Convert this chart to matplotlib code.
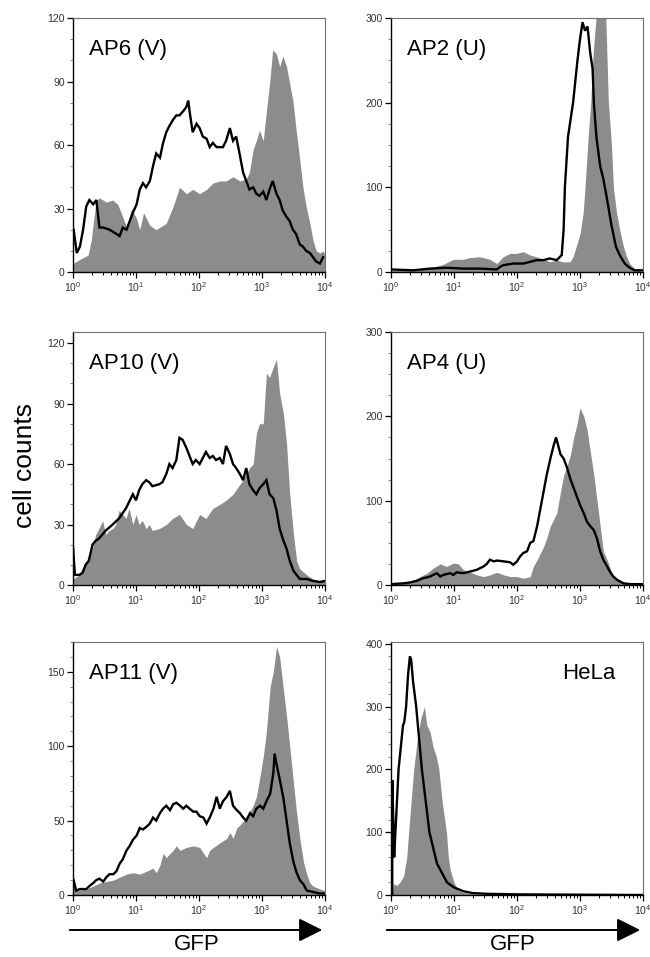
import numpy as np
import matplotlib
matplotlib.use("Agg")
import matplotlib.pyplot as plt
from matplotlib.ticker import MultipleLocator, LogLocator, NullFormatter
from matplotlib.patches import FancyArrowPatch

plt.rcParams['font.family'] = ['Liberation Sans', 'DejaVu Sans']
plt.rcParams['mathtext.fontset'] = 'custom'
plt.rcParams['mathtext.rm'] = 'Liberation Sans'
plt.rcParams['mathtext.it'] = 'Liberation Sans'
plt.rcParams['mathtext.default'] = 'regular'

# ---------------- data (x given as log10 of GFP intensity) ----------------
ap6_gray_x = [0.00, 0.11, 0.24, 0.29, 0.33, 0.37, 0.42, 0.53, 0.63, 0.71, 0.79, 0.85, 0.93, 1.01, 1.06, 1.12,
              1.22, 1.32, 1.48, 1.59, 1.69, 1.80, 1.90, 2.01, 2.12, 2.22, 2.33, 2.43, 2.54, 2.65, 2.75, 2.80,
              2.86, 2.91, 2.96, 3.02, 3.07, 3.12, 3.17, 3.23, 3.28, 3.33, 3.39, 3.44, 3.49, 3.55, 3.60, 3.65,
              3.70, 3.76, 3.81, 3.86, 3.92, 3.97, 4.00]
ap6_gray_y = [4, 6, 8, 15, 25, 34, 35, 33, 34, 32, 26, 21, 30, 25, 20, 28,
              22, 20, 23, 31, 40, 37, 39, 37, 39, 42, 43, 43, 45, 43, 44, 47,
              58, 62, 67, 62, 76, 89, 105, 103, 97, 102, 97, 89, 81, 65, 53, 40,
              31, 23, 15, 10, 9, 10, 8]
ap6_line_x = [0.01, 0.06, 0.11, 0.16, 0.21, 0.26, 0.32, 0.37, 0.42, 0.48, 0.58, 0.69, 0.74, 0.79, 0.85, 0.90,
              0.95, 1.01, 1.06, 1.11, 1.16, 1.22, 1.27, 1.32, 1.38, 1.43, 1.48, 1.53, 1.59, 1.64, 1.69, 1.75,
              1.80, 1.83, 1.85, 1.90, 1.96, 2.01, 2.06, 2.12, 2.17, 2.22, 2.28, 2.38, 2.43, 2.49, 2.54, 2.59,
              2.65, 2.70, 2.75, 2.80, 2.86, 2.91, 2.96, 3.02, 3.07, 3.12, 3.17, 3.23, 3.28, 3.33, 3.39, 3.44,
              3.49, 3.54, 3.60, 3.65, 3.70, 3.76, 3.81, 3.86, 3.92, 3.97]
ap6_line_y = [20, 9, 12, 20, 31, 34, 32, 34, 21, 21, 20, 18, 17, 21, 20, 24,
              28, 32, 39, 42, 40, 43, 50, 56, 54, 61, 66, 69, 72, 74, 74, 76,
              78, 81, 76, 66, 70, 68, 64, 63, 59, 61, 59, 59, 62, 68, 62, 64,
              55, 47, 43, 39, 40, 37, 36, 38, 34, 39, 43, 37, 34, 29, 26, 24,
              20, 18, 13, 12, 10, 9, 7, 5, 4, 7]

ap2_gray_x = [0.00, 0.35, 0.62, 0.83, 0.99, 1.15, 1.25, 1.41, 1.57, 1.68, 1.78, 1.89, 1.99, 2.10, 2.21, 2.31,
              2.42, 2.52, 2.63, 2.73, 2.84, 2.89, 2.94, 3.00, 3.05, 3.08, 3.13, 3.17, 3.21, 3.26, 3.32, 3.37,
              3.41, 3.45, 3.50, 3.53, 3.58, 3.63, 3.69, 3.74, 3.79, 3.85, 3.90, 3.99]
ap2_gray_y = [2, 3, 5, 9, 15, 15, 17, 18, 15, 10, 18, 22, 22, 24, 20, 18,
              15, 12, 14, 12, 12, 18, 30, 45, 70, 100, 160, 200, 260, 305, 330, 330,
              300, 200, 150, 100, 70, 50, 30, 18, 10, 5, 2, 1]
ap2_line_x = [0.00, 0.35, 0.62, 0.88, 1.15, 1.41, 1.68, 1.73, 1.78, 1.94, 2.10, 2.21, 2.31, 2.42, 2.52, 2.63,
              2.71, 2.74, 2.76, 2.81, 2.89, 2.96, 3.00, 3.04, 3.08, 3.12, 3.16, 3.20, 3.22, 3.26, 3.32, 3.37,
              3.42, 3.50, 3.57, 3.63, 3.71, 3.79, 3.87, 3.99]
ap2_line_y = [3, 2, 4, 5, 4, 4, 3, 6, 8, 10, 10, 12, 14, 14, 16, 14,
              20, 50, 100, 160, 200, 250, 275, 295, 285, 290, 260, 240, 200, 160, 125, 110,
              90, 55, 30, 20, 10, 5, 2, 2]

ap10_gray_x = [0.00, 0.10, 0.20, 0.31, 0.36, 0.41, 0.47, 0.52, 0.57, 0.63, 0.68, 0.73, 0.79, 0.84, 0.89, 0.95,
               1.00, 1.05, 1.10, 1.16, 1.21, 1.26, 1.37, 1.48, 1.58, 1.69, 1.80, 1.90, 2.01, 2.11, 2.22, 2.33,
               2.43, 2.54, 2.65, 2.70, 2.75, 2.80, 2.86, 2.91, 2.96, 3.02, 3.07, 3.12, 3.18, 3.23, 3.28, 3.34,
               3.39, 3.44, 3.50, 3.55, 3.60, 3.71, 3.81, 3.92, 4.00]
ap10_gray_y = [3, 5, 10, 18, 25, 28, 32, 25, 27, 28, 30, 37, 35, 33, 38, 30,
               35, 30, 32, 28, 30, 27, 28, 30, 33, 35, 30, 28, 35, 33, 38, 40,
               42, 45, 50, 52, 55, 58, 60, 75, 80, 80, 105, 103, 108, 112, 95, 85,
               70, 45, 25, 12, 8, 5, 3, 2, 3]
ap10_line_x = [0.00, 0.03, 0.10, 0.15, 0.20, 0.25, 0.31, 0.36, 0.41, 0.52, 0.63, 0.73, 0.84, 0.95, 1.00, 1.05,
               1.10, 1.16, 1.21, 1.26, 1.37, 1.42, 1.48, 1.53, 1.58, 1.64, 1.69, 1.74, 1.80, 1.85, 1.90, 1.95,
               2.01, 2.06, 2.11, 2.17, 2.22, 2.27, 2.33, 2.38, 2.43, 2.49, 2.54, 2.59, 2.65, 2.70, 2.75, 2.80,
               2.86, 2.91, 2.96, 3.02, 3.07, 3.12, 3.18, 3.23, 3.28, 3.34, 3.39, 3.44, 3.50, 3.55, 3.60, 3.71,
               3.81, 3.92, 4.00]
ap10_line_y = [19, 5, 5, 6, 10, 12, 20, 22, 23, 27, 30, 33, 38, 45, 42, 47,
               50, 52, 51, 49, 50, 51, 55, 60, 58, 62, 73, 72, 68, 64, 60, 62,
               60, 63, 66, 63, 64, 62, 63, 60, 69, 65, 60, 58, 55, 52, 58, 50,
               47, 45, 48, 50, 52, 45, 43, 37, 28, 22, 18, 12, 7, 5, 3, 3,
               2, 1.5, 2]

ap4_gray_x = [0.00, 0.20, 0.35, 0.46, 0.57, 0.67, 0.78, 0.88, 0.99, 1.07, 1.15, 1.26, 1.36, 1.47, 1.57, 1.68,
              1.79, 1.89, 2.00, 2.10, 2.21, 2.26, 2.32, 2.42, 2.47, 2.53, 2.63, 2.69, 2.74, 2.79, 2.85, 2.90,
              2.95, 3.00, 3.06, 3.11, 3.16, 3.22, 3.27, 3.32, 3.37, 3.43, 3.48, 3.53, 3.64, 3.80, 4.00]
ap4_gray_y = [1, 2, 5, 10, 14, 20, 25, 22, 26, 25, 18, 15, 12, 10, 12, 15,
              12, 10, 10, 8, 10, 22, 30, 45, 55, 70, 85, 110, 130, 140, 155, 175,
              190, 210, 200, 185, 160, 130, 100, 70, 40, 30, 20, 10, 4, 2, 1]
ap4_line_x = [0.00, 0.20, 0.30, 0.41, 0.51, 0.62, 0.67, 0.73, 0.78, 0.83, 0.94, 0.99, 1.04, 1.15, 1.26, 1.36,
              1.47, 1.52, 1.57, 1.63, 1.68, 1.79, 1.89, 1.94, 2.00, 2.05, 2.10, 2.16, 2.21, 2.26, 2.32, 2.37,
              2.42, 2.47, 2.53, 2.58, 2.62, 2.69, 2.74, 2.79, 2.85, 2.90, 2.95, 3.00, 3.06, 3.11, 3.16, 3.22,
              3.27, 3.32, 3.37, 3.43, 3.48, 3.53, 3.59, 3.64, 3.69, 3.80, 4.00]
ap4_line_y = [1, 2, 3, 5, 8, 10, 12, 14, 10, 12, 14, 12, 15, 14, 16, 18,
              22, 25, 30, 28, 29, 28, 27, 24, 28, 34, 38, 40, 50, 52, 70, 90,
              110, 130, 150, 165, 175, 155, 150, 140, 125, 115, 105, 95, 85, 75, 70, 65,
              55, 40, 30, 22, 15, 10, 6, 4, 2, 1, 1]

ap11_gray_x = [0.01, 0.05, 0.21, 0.32, 0.42, 0.53, 0.64, 0.74, 0.85, 0.95, 1.06, 1.17, 1.27, 1.32, 1.38, 1.43,
               1.48, 1.54, 1.59, 1.64, 1.70, 1.80, 1.91, 2.01, 2.12, 2.17, 2.23, 2.33, 2.44, 2.49, 2.54, 2.60,
               2.65, 2.75, 2.86, 2.91, 2.97, 3.02, 3.07, 3.13, 3.18, 3.23, 3.28, 3.34, 3.39, 3.44, 3.50, 3.55,
               3.60, 3.66, 3.71, 3.76, 3.81, 3.92, 4.00]
ap11_gray_y = [8, 3, 4, 6, 8, 9, 10, 12, 14, 15, 14, 16, 18, 15, 20, 28,
               25, 28, 30, 33, 30, 32, 33, 32, 25, 30, 32, 35, 38, 42, 38, 45,
               47, 52, 60, 66, 80, 93, 110, 140, 150, 167, 160, 138, 120, 100, 75, 55,
               38, 22, 14, 8, 6, 4, 3]
ap11_line_x = [0.01, 0.05, 0.11, 0.21, 0.26, 0.32, 0.37, 0.42, 0.48, 0.53, 0.58, 0.64, 0.69, 0.74, 0.79, 0.85,
               0.90, 0.95, 1.01, 1.06, 1.11, 1.17, 1.22, 1.27, 1.32, 1.38, 1.43, 1.48, 1.54, 1.59, 1.64, 1.70,
               1.75, 1.80, 1.85, 1.91, 1.96, 2.01, 2.07, 2.12, 2.17, 2.23, 2.28, 2.33, 2.38, 2.44, 2.49, 2.54,
               2.60, 2.65, 2.70, 2.75, 2.81, 2.86, 2.91, 2.97, 3.02, 3.07, 3.13, 3.18, 3.20, 3.23, 3.28, 3.34,
               3.39, 3.44, 3.50, 3.55, 3.60, 3.66, 3.71, 3.81, 3.92, 4.00]
ap11_line_y = [10, 3, 4, 4, 6, 8, 10, 11, 9, 12, 14, 14, 16, 21, 24, 30,
               33, 37, 40, 45, 44, 46, 48, 52, 50, 55, 58, 60, 57, 61, 62, 60,
               58, 60, 58, 56, 56, 53, 52, 48, 52, 58, 66, 58, 63, 66, 70, 60,
               57, 55, 52, 50, 55, 53, 58, 60, 58, 63, 68, 82, 95, 88, 78, 65,
               50, 35, 22, 15, 10, 7, 3, 2, 1, 1]

hela_gray_x = [0.02, 0.04, 0.09, 0.14, 0.20, 0.25, 0.28, 0.36, 0.42, 0.47, 0.53, 0.57, 0.62, 0.67, 0.72, 0.76,
               0.81, 0.88, 0.91, 0.94, 1.00, 1.06, 1.15, 1.30, 1.50, 2.00]
hela_gray_y = [5, 18, 15, 20, 30, 60, 100, 200, 250, 280, 300, 270, 260, 235, 220, 200,
               150, 100, 60, 40, 20, 8, 4, 2, 1, 0]
hela_line_x = [0.02, 0.02, 0.05, 0.07, 0.12, 0.19, 0.21, 0.24, 0.27, 0.30, 0.32, 0.35, 0.40, 0.49, 0.61, 0.73,
               0.89, 1.00, 1.15, 1.30, 1.50, 2.00, 4.00]
hela_line_y = [0, 183, 60, 100, 200, 270, 275, 300, 350, 380, 375, 340, 300, 200, 100, 50,
               20, 12, 6, 3, 2, 1, 0]

panel_names = ["AP6 (V)", "AP2 (U)", "AP10 (V)", "AP4 (U)", "AP11 (V)", "HeLa"]
panel_gray = [(ap6_gray_x, ap6_gray_y), (ap2_gray_x, ap2_gray_y), (ap10_gray_x, ap10_gray_y),
              (ap4_gray_x, ap4_gray_y), (ap11_gray_x, ap11_gray_y), (hela_gray_x, hela_gray_y)]
panel_line = [(ap6_line_x, ap6_line_y), (ap2_line_x, ap2_line_y), (ap10_line_x, ap10_line_y),
              (ap4_line_x, ap4_line_y), (ap11_line_x, ap11_line_y), (hela_line_x, hela_line_y)]
panel_ymax = [120, 300, 125.5, 300, 170, 403]
panel_ymajor = [30, 100, 30, 100, 50, 100]
panel_yminor = [10, 25, 10, 25, 10, 20]

# ---------------- layout ----------------
W, H = 650, 957
fig = plt.figure(figsize=(W / 100, H / 100), dpi=100)
col_left = [73, 391]
col_w = 252
rows = [(18, 272), (332, 585), (642, 895)]

gray = '#8c8c8c'
for i in range(6):
    r, c = divmod(i, 2)
    top, bot = rows[r]
    ax = fig.add_axes([col_left[c] / W, 1 - bot / H, col_w / W, (bot - top) / H])
    gx, gy = panel_gray[i]
    lx, ly = panel_line[i]
    ax.fill_between(10 ** np.array(gx), gy, 0, color=gray, lw=0)
    ax.plot(10 ** np.array(lx), ly, color='black', lw=1.7, solid_joinstyle='miter')
    ax.set_xscale('log')
    ax.set_xlim(1, 1e4)
    ax.set_ylim(0, panel_ymax[i])
    ax.xaxis.set_major_locator(LogLocator(base=10, numticks=10))
    ax.xaxis.set_minor_locator(LogLocator(base=10, subs=np.arange(2, 10), numticks=20))
    ax.xaxis.set_minor_formatter(NullFormatter())
    ax.yaxis.set_major_locator(MultipleLocator(panel_ymajor[i]))
    ax.yaxis.set_minor_locator(MultipleLocator(panel_yminor[i]))
    ax.tick_params(axis='both', which='major', direction='out', length=4, width=0.9,
                   labelsize=7.5, colors='black', labelcolor='#333333', pad=2)
    ax.tick_params(axis='both', which='minor', direction='out', length=2.5, width=0.7, colors='black')
    ax.tick_params(axis='y', which='minor', colors='#888888')
    for s in ['top', 'right']:
        ax.spines[s].set_color('#6f6f6f')
        ax.spines[s].set_linewidth(0.8)
    for s in ['left', 'bottom']:
        ax.spines[s].set_color('black')
        ax.spines[s].set_linewidth(1.0)
    if c == 1:
        # keep the rightmost decade label inside the figure
        fig.canvas.draw()
        labs = ax.get_xticklabels()
        if labs:
            labs[-1].set_horizontalalignment('right')
            labs[-1].set_x(labs[-1].get_position()[0])
    if i == 5:
        ax.text(0.89, 0.855, panel_names[i], transform=ax.transAxes, fontsize=16,
                ha='right', va='baseline')
    else:
        ax.text(0.065, 0.855, panel_names[i], transform=ax.transAxes, fontsize=16,
                ha='left', va='baseline')

fig.text(25 / W, 1 - 465 / H, "cell counts", rotation=90, fontsize=19,
         ha='center', va='center')

for (x0, x1, xc) in [(67, 325, 197), (384, 643, 513)]:
    arr = FancyArrowPatch((x0 / W, 1 - 930 / H), (x1 / W, 1 - 930 / H),
                          transform=fig.transFigure, arrowstyle='-|>,head_length=0.9,head_width=0.45',
                          mutation_scale=16, lw=1.4, color='black')
    fig.add_artist(arr)
    fig.text(xc / W, 2 / H, "GFP", fontsize=16, ha='center', va='bottom')

fig.savefig("out.png", dpi=100)
